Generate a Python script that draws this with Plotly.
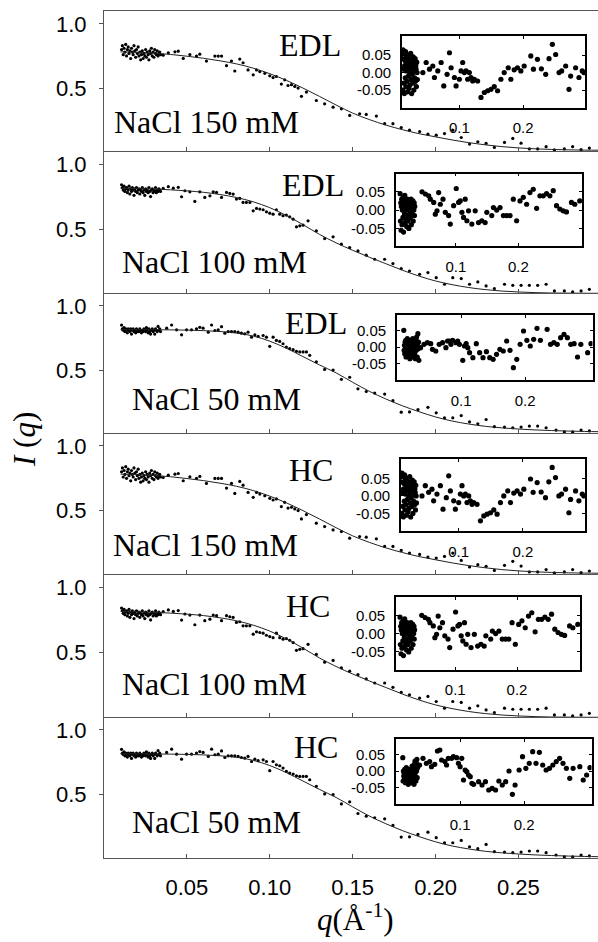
import plotly.graph_objects as go

# ---------------- data ----------------
# dense low-q grid shared by all measurements
Q_LOW = [0.0106, 0.0111, 0.0116, 0.0121, 0.0126, 0.0131, 0.0136, 0.0141, 0.0146, 0.0151,
         0.0156, 0.0161, 0.0166, 0.0171, 0.0176, 0.0181, 0.0186, 0.0191, 0.0196, 0.0201,
         0.0206, 0.0211, 0.0216, 0.0221, 0.0226, 0.0231, 0.0236, 0.0241, 0.0246, 0.0251,
         0.0256, 0.0261, 0.0266, 0.0271, 0.0276, 0.0281, 0.0286, 0.0291, 0.0296, 0.0301,
         0.0306, 0.0311, 0.0316, 0.0321, 0.0326, 0.0331, 0.0336, 0.0341]

# NaCl 150 mM intensities
I150_LOW = [0.80, 0.83, 0.76, 0.81, 0.78, 0.84, 0.75, 0.80, 0.82, 0.77, 0.79, 0.73, 0.81, 0.78, 0.76, 0.83,
            0.79, 0.74, 0.80, 0.77, 0.82, 0.75, 0.78, 0.72, 0.76, 0.79, 0.73, 0.77, 0.75, 0.80, 0.74, 0.78,
            0.76, 0.72, 0.79, 0.77, 0.81, 0.75, 0.78, 0.74, 0.80, 0.77, 0.76, 0.79, 0.75, 0.77, 0.78, 0.76]
Q150 = [0.0357, 0.0388, 0.0428, 0.0448, 0.0478, 0.0518, 0.0558, 0.0578, 0.0618, 0.0669,
        0.0689, 0.0709, 0.0739, 0.0769, 0.0789, 0.0819, 0.0839, 0.0869, 0.0900, 0.0920,
        0.0940, 0.0970, 0.1000, 0.1020, 0.1040, 0.1070, 0.1090, 0.1110, 0.1131, 0.1151,
        0.1171, 0.1191, 0.1221, 0.1281, 0.1331, 0.1382, 0.1432, 0.1482, 0.1542, 0.1582,
        0.1643, 0.1693, 0.1743, 0.1793, 0.1843, 0.1904, 0.1954, 0.2004, 0.2054, 0.2104,
        0.2155, 0.2205, 0.2255, 0.2305, 0.2355, 0.2416, 0.2466, 0.2516, 0.2566, 0.2616,
        0.2667, 0.2717, 0.2777, 0.2827, 0.2878, 0.2928]
I150 = [0.756, 0.774, 0.782, 0.787, 0.731, 0.761, 0.749, 0.764, 0.710, 0.749,
        0.749, 0.749, 0.674, 0.710, 0.633, 0.726, 0.697, 0.641, 0.603, 0.641,
        0.628, 0.615, 0.595, 0.582, 0.590, 0.531, 0.564, 0.520, 0.526, 0.513,
        0.500, 0.436, 0.469, 0.403, 0.377, 0.351, 0.338, 0.287, 0.300, 0.295,
        0.282, 0.223, 0.223, 0.192, 0.172, 0.161, 0.141, 0.133, 0.146, 0.172,
        0.115, 0.064, 0.082, 0.069, 0.038, 0.077, 0.108, 0.071, 0.026, 0.026,
        0.044, 0.018, 0.026, 0.044, 0.020, 0.033]

# NaCl 100 mM intensities
I100_LOW = [0.84, 0.82, 0.80, 0.83, 0.79, 0.81, 0.82, 0.78, 0.80, 0.83, 0.77, 0.81, 0.79, 0.82, 0.80, 0.76,
            0.81, 0.79, 0.82, 0.78, 0.80, 0.81, 0.77, 0.80, 0.79, 0.82, 0.78, 0.80, 0.76, 0.81, 0.79, 0.80,
            0.78, 0.82, 0.79, 0.75, 0.80, 0.81, 0.78, 0.80, 0.79, 0.82, 0.78, 0.80, 0.79, 0.81, 0.80, 0.79]
Q100 = [0.0357, 0.0388, 0.0418, 0.0448, 0.0468, 0.0488, 0.0518, 0.0548, 0.0578, 0.0608,
        0.0639, 0.0659, 0.0679, 0.0709, 0.0739, 0.0759, 0.0779, 0.0799, 0.0819, 0.0839,
        0.0859, 0.0880, 0.0900, 0.0920, 0.0940, 0.0960, 0.0980, 0.1000, 0.1020, 0.1040,
        0.1060, 0.1080, 0.1100, 0.1120, 0.1141, 0.1161, 0.1181, 0.1201, 0.1231, 0.1281,
        0.1331, 0.1382, 0.1432, 0.1482, 0.1532, 0.1582, 0.1633, 0.1693, 0.1743, 0.1793,
        0.1843, 0.1904, 0.1954, 0.2004, 0.2054, 0.2104, 0.2155, 0.2205, 0.2255, 0.2305,
        0.2355, 0.2416, 0.2466, 0.2516, 0.2566, 0.2616, 0.2667, 0.2717, 0.2777, 0.2827,
        0.2878, 0.2928]
I100 = [0.813, 0.826, 0.815, 0.821, 0.749, 0.795, 0.787, 0.713, 0.787, 0.744,
        0.756, 0.787, 0.782, 0.744, 0.782, 0.774, 0.769, 0.731, 0.736, 0.705,
        0.705, 0.705, 0.641, 0.659, 0.654, 0.649, 0.633, 0.623, 0.615, 0.649,
        0.615, 0.603, 0.608, 0.595, 0.577, 0.518, 0.526, 0.531, 0.564, 0.487,
        0.428, 0.441, 0.385, 0.359, 0.333, 0.300, 0.269, 0.269, 0.236, 0.197,
        0.179, 0.154, 0.167, 0.128, 0.077, 0.128, 0.121, 0.077, 0.095, 0.064,
        0.044, 0.077, 0.069, 0.069, 0.069, 0.069, 0.077, 0.026, 0.026, 0.018,
        0.026, 0.038]

# NaCl 50 mM intensities
I50_LOW = [0.85, 0.82, 0.81, 0.83, 0.80, 0.82, 0.81, 0.79, 0.82, 0.81, 0.80, 0.82, 0.78, 0.81, 0.82, 0.80,
           0.81, 0.79, 0.82, 0.80, 0.81, 0.80, 0.82, 0.81, 0.79, 0.81, 0.80, 0.82, 0.81, 0.80, 0.83, 0.81,
           0.79, 0.82, 0.80, 0.78, 0.81, 0.82, 0.80, 0.81, 0.78, 0.82, 0.81, 0.80, 0.84, 0.81, 0.82, 0.80]
Q50 = [0.0378, 0.0408, 0.0438, 0.0468, 0.0498, 0.0528, 0.0558, 0.0578, 0.0598, 0.0629,
       0.0649, 0.0669, 0.0689, 0.0709, 0.0729, 0.0749, 0.0769, 0.0789, 0.0809, 0.0829,
       0.0849, 0.0869, 0.0890, 0.0910, 0.0930, 0.0960, 0.0980, 0.1000, 0.1020, 0.1040,
       0.1060, 0.1080, 0.1100, 0.1120, 0.1141, 0.1161, 0.1181, 0.1201, 0.1221, 0.1241,
       0.1281, 0.1331, 0.1382, 0.1432, 0.1482, 0.1532, 0.1582, 0.1633, 0.1693, 0.1743,
       0.1793, 0.1843, 0.1894, 0.1954, 0.2004, 0.2054, 0.2104, 0.2155, 0.2205, 0.2255,
       0.2305, 0.2355, 0.2416, 0.2466, 0.2516, 0.2566, 0.2616, 0.2667, 0.2727, 0.2777,
       0.2827, 0.2878, 0.2928]
I50 = [0.826, 0.851, 0.813, 0.774, 0.813, 0.813, 0.821, 0.833, 0.826, 0.795,
       0.851, 0.808, 0.813, 0.838, 0.787, 0.800, 0.800, 0.800, 0.795, 0.787,
       0.782, 0.795, 0.756, 0.774, 0.762, 0.769, 0.756, 0.685, 0.756, 0.731,
       0.723, 0.705, 0.679, 0.667, 0.659, 0.646, 0.641, 0.641, 0.641, 0.615,
       0.564, 0.505, 0.500, 0.428, 0.444, 0.354, 0.333, 0.321, 0.313, 0.262,
       0.172, 0.174, 0.192, 0.210, 0.167, 0.128, 0.128, 0.146, 0.097, 0.082,
       0.115, 0.059, 0.056, 0.051, 0.056, 0.064, 0.064, 0.051, 0.033, 0.018,
       0.018, 0.033, 0.026]

# fitted model curves
Q_FIT = [0.010, 0.020, 0.030, 0.040, 0.050, 0.060, 0.070, 0.080, 0.090, 0.100,
         0.110, 0.120, 0.130, 0.140, 0.150, 0.160, 0.170, 0.180, 0.190, 0.200,
         0.210, 0.220, 0.230, 0.240, 0.250, 0.260, 0.270, 0.280, 0.290, 0.300]
FIT150 = [0.782, 0.778, 0.772, 0.762, 0.748, 0.732, 0.712, 0.688, 0.655, 0.612,
          0.560, 0.500, 0.435, 0.368, 0.305, 0.255, 0.212, 0.176, 0.145, 0.120,
          0.096, 0.075, 0.058, 0.044, 0.034, 0.027, 0.022, 0.019, 0.017, 0.016]
FIT100 = [0.814, 0.812, 0.808, 0.802, 0.794, 0.783, 0.766, 0.743, 0.710, 0.665,
          0.605, 0.535, 0.460, 0.395, 0.338, 0.285, 0.235, 0.185, 0.140, 0.102,
          0.074, 0.052, 0.036, 0.025, 0.018, 0.013, 0.010, 0.009, 0.008, 0.008]
FIT50 = [0.815, 0.815, 0.814, 0.813, 0.811, 0.807, 0.800, 0.788, 0.765, 0.725,
         0.670, 0.605, 0.540, 0.478, 0.405, 0.335, 0.275, 0.222, 0.176, 0.135,
         0.103, 0.080, 0.062, 0.050, 0.041, 0.034, 0.029, 0.025, 0.022, 0.020]

# residuals (insets)
R150_LOW = [0.040, -0.050, 0.065, 0.010, -0.030, 0.055, -0.060, 0.020, 0.035, -0.015, 0.060, -0.040,
            0.005, 0.045, -0.025, 0.030, -0.055, 0.015, 0.050, -0.010, 0.025, -0.045, 0.040, 0.000,
            -0.035, 0.020, 0.055, -0.020, 0.010, -0.060, 0.035, -0.005, 0.025, -0.030, 0.045, 0.015,
            -0.050, 0.030, -0.015, 0.005, 0.040, -0.025, 0.020, 0.010, -0.040, 0.030, 0.000, -0.020]
RQ150 = [0.0427, 0.0479, 0.0531, 0.0583, 0.0609, 0.0661, 0.0714, 0.0755, 0.0807, 0.0844,
         0.0870, 0.0922, 0.0948, 0.1000, 0.1026, 0.1052, 0.1078, 0.1104, 0.1130, 0.1156,
         0.1182, 0.1208, 0.1234, 0.1286, 0.1339, 0.1391, 0.1443, 0.1495, 0.1547, 0.1599,
         0.1651, 0.1703, 0.1766, 0.1807, 0.1859, 0.1911, 0.1964, 0.2016, 0.2120, 0.2161,
         0.2224, 0.2286, 0.2354, 0.2406, 0.2458, 0.2510, 0.2563, 0.2604, 0.2667, 0.2719,
         0.2745, 0.2823, 0.2875, 0.2927, 0.2953]
R150 = [0.000, 0.029, 0.010, 0.019, -0.014, 0.005, 0.029, -0.038, -0.005, 0.057,
        0.014, -0.014, -0.038, -0.019, 0.005, 0.029, 0.000, 0.005, -0.019, 0.000,
        -0.014, -0.024, -0.019, -0.024, -0.071, -0.057, -0.052, -0.048, -0.040, -0.052,
        -0.019, 0.000, 0.014, -0.019, 0.008, 0.014, 0.005, 0.019, 0.048, 0.010,
        0.038, 0.011, -0.005, 0.040, 0.081, 0.052, 0.000, 0.005, 0.019, -0.048,
        -0.010, 0.014, -0.014, 0.005, 0.000]

R100_LOW = [0.045, -0.030, 0.020, -0.055, 0.010, 0.030, -0.040, 0.000, 0.015, -0.020, 0.035, -0.060,
            0.005, 0.025, -0.010, 0.040, -0.035, 0.010, -0.025, 0.020, 0.000, -0.045, 0.015, 0.030,
            -0.015, 0.005, -0.030, 0.020, -0.050, 0.010, 0.025, -0.005, 0.015, -0.020, 0.000, 0.030,
            -0.040, 0.010, 0.020, -0.010, 0.005, 0.025, -0.030, 0.015, 0.000, 0.020, -0.015, 0.010]
RQ100 = [0.0457, 0.0511, 0.0564, 0.0590, 0.0644, 0.0670, 0.0697, 0.0723, 0.0750, 0.0793,
         0.0830, 0.0883, 0.0910, 0.0963, 0.1005, 0.1043, 0.1069, 0.1096, 0.1122, 0.1149,
         0.1176, 0.1202, 0.1255, 0.1309, 0.1362, 0.1415, 0.1468, 0.1495, 0.1574, 0.1601,
         0.1654, 0.1707, 0.1761, 0.1814, 0.1867, 0.1920, 0.1973, 0.2027, 0.2080, 0.2133,
         0.2186, 0.2239, 0.2293, 0.2346, 0.2399, 0.2452, 0.2505, 0.2559, 0.2612, 0.2665,
         0.2718, 0.2771, 0.2851, 0.2904, 0.2984]
R100 = [0.050, 0.044, 0.039, 0.030, 0.021, -0.011, -0.002, 0.048, 0.016, 0.030,
        -0.006, -0.015, -0.038, 0.012, 0.059, 0.021, 0.025, -0.006, -0.020, 0.030,
        -0.029, -0.002, -0.038, -0.002, -0.034, -0.029, -0.034, -0.006, -0.015, 0.007,
        0.000, 0.007, -0.015, -0.015, -0.015, 0.030, -0.029, 0.025, 0.035, 0.016,
        0.048, 0.057, 0.005, 0.039, 0.039, 0.045, 0.039, 0.053, 0.012, 0.003,
        -0.002, -0.005, 0.021, 0.016, 0.025]

R50E_LOW = [0.050, -0.010, 0.005, -0.020, 0.015, -0.005, 0.020, -0.030, 0.010, 0.000, -0.015, 0.025,
            -0.005, 0.010, -0.025, 0.005, 0.015, -0.010, 0.000, -0.035, 0.010, 0.020, -0.005, 0.005,
            -0.020, 0.015, -0.010, 0.000, 0.025, -0.030, 0.005, -0.015, 0.010, 0.000, -0.020, 0.015,
            -0.035, 0.005, 0.020, -0.010, 0.030, 0.000, -0.030, 0.010, 0.040, -0.005, 0.015, -0.040]
RQ50E = [0.0368, 0.0421, 0.0474, 0.0526, 0.0553, 0.0605, 0.0658, 0.0711, 0.0763, 0.0789,
         0.0816, 0.0842, 0.0868, 0.0921, 0.0947, 0.0974, 0.1026, 0.1053, 0.1079, 0.1105,
         0.1132, 0.1184, 0.1237, 0.1289, 0.1342, 0.1395, 0.1447, 0.1500, 0.1553, 0.1605,
         0.1658, 0.1711, 0.1763, 0.1816, 0.1868, 0.1921, 0.1974, 0.2026, 0.2079, 0.2132,
         0.2184, 0.2237, 0.2342, 0.2395, 0.2447, 0.2500, 0.2553, 0.2605, 0.2658, 0.2711,
         0.2763, 0.2816, 0.2868, 0.2974, 0.3026]
R50E = [-0.002, 0.008, 0.013, 0.010, -0.007, -0.012, 0.008, 0.013, -0.002, 0.018,
        0.018, 0.008, 0.020, 0.013, 0.018, 0.008, -0.040, 0.003, 0.010, -0.002,
        -0.017, -0.032, 0.010, -0.017, -0.032, -0.014, -0.032, -0.037, -0.022, -0.007,
        -0.012, 0.018, -0.010, -0.062, -0.037, 0.008, 0.048, 0.020, 0.003, 0.023,
        0.056, 0.020, 0.053, 0.008, 0.013, 0.008, 0.028, 0.038, 0.028, 0.008,
        0.010, -0.030, 0.008, -0.017, 0.010]

R50H_LOW = [0.040, -0.030, 0.000, -0.015, -0.005, -0.025, 0.005, -0.010, -0.035, 0.000, -0.020, 0.010,
            -0.015, -0.005, -0.030, 0.000, -0.010, -0.040, -0.020, 0.005, -0.015, -0.025, -0.005, -0.010,
            -0.030, 0.000, -0.020, -0.035, -0.005, 0.015, -0.025, -0.010, 0.010, -0.030, 0.000, -0.040,
            0.020, -0.015, 0.030, -0.005, 0.015, -0.030, 0.025, 0.000, 0.035, -0.020, 0.010, 0.015]
RQ50H = [0.0368, 0.0421, 0.0474, 0.0526, 0.0553, 0.0605, 0.0647, 0.0684, 0.0711, 0.0763,
         0.0789, 0.0816, 0.0868, 0.0895, 0.0947, 0.0974, 0.1000, 0.1026, 0.1053, 0.1079,
         0.1105, 0.1132, 0.1158, 0.1184, 0.1211, 0.1289, 0.1342, 0.1395, 0.1447, 0.1500,
         0.1553, 0.1605, 0.1658, 0.1711, 0.1763, 0.1816, 0.1858, 0.1921, 0.1974, 0.2026,
         0.2079, 0.2132, 0.2184, 0.2237, 0.2289, 0.2342, 0.2395, 0.2447, 0.2500, 0.2553,
         0.2605, 0.2658, 0.2711, 0.2763, 0.2868, 0.2921, 0.2974, 0.3026]
R50H = [0.018, 0.038, 0.023, 0.028, 0.013, 0.020, 0.060, 0.063, 0.033, 0.028,
        0.018, 0.038, 0.038, 0.043, 0.040, 0.023, 0.013, 0.038, -0.027, 0.003,
        -0.002, -0.012, -0.017, -0.037, -0.040, -0.032, -0.042, -0.032, -0.057, -0.052,
        -0.057, -0.030, -0.042, -0.032, 0.000, -0.070, -0.042, 0.003, 0.043, 0.008,
        0.023, 0.058, 0.023, 0.056, 0.018, 0.003, 0.008, 0.018, 0.028, 0.038,
        0.023, 0.008, -0.022, 0.008, 0.013, -0.027, -0.012, 0.010]

MODELS = ["EDL", "EDL", "EDL", "HC", "HC", "HC"]
SALTS = ["NaCl 150 mM", "NaCl 100 mM", "NaCl 50 mM", "NaCl 150 mM", "NaCl 100 mM", "NaCl 50 mM"]
X_TICKS = [0.05, 0.10, 0.15, 0.20, 0.25]
X_TICK_TEXT = ["0.05", "0.10", "0.15", "0.20", "0.25"]
Y_TICKS = [0.5, 1.0]
Y_TICK_TEXT = ["0.5", "1.0"]
IX_TICKS = [0.1, 0.2]
IX_TICK_TEXT = ["0.1", "0.2"]
IY_TICKS = [-0.05, 0.0, 0.05]
IY_TICK_TEXT = ["-0.05", "0.00", "0.05"]

main_sets = [
    (Q_LOW + Q150, I150_LOW + I150, FIT150),
    (Q_LOW + Q100, I100_LOW + I100, FIT100),
    (Q_LOW + Q50, I50_LOW + I50, FIT50),
    (Q_LOW + Q150, I150_LOW + I150, FIT150),
    (Q_LOW + Q100, I100_LOW + I100, FIT100),
    (Q_LOW + Q50, I50_LOW + I50, FIT50),
]
res_sets = [
    (Q_LOW + RQ150, R150_LOW + R150),
    (Q_LOW + RQ100, R100_LOW + R100),
    (Q_LOW + RQ50E, R50E_LOW + R50E),
    (Q_LOW + RQ150, R150_LOW + R150),
    (Q_LOW + RQ100, R100_LOW + R100),
    (Q_LOW + RQ50H, R50H_LOW + R50H),
]

# ---------------- layout geometry (pixels) ----------------
W, H = 598, 942
L, R, T, B = 104, 0, 11, 84
PW = W - L - R
PH = H - T - B


def px(X):
    return (X - L) / PW


def py(Y):
    return (H - B - Y) / PH


panel_px = [(11, 151), (151, 293), (293, 433), (433, 574), (574, 717), (717, 858)]
inset_px = [(402, 585, 36, 107.5), (396, 582, 173.5, 246), (397, 592.5, 315, 380),
            (401, 585, 459, 531), (396, 580, 597, 669.5), (396, 591.5, 739, 804)]
inset_xr = [[0.010, 0.297], [0.004, 0.302], [0.0, 0.305],
            [0.010, 0.297], [0.004, 0.302], [0.0, 0.305]]
inset_yr = [[-0.10, 0.105], [-0.098, 0.10], [-0.099, 0.096],
            [-0.10, 0.105], [-0.098, 0.10], [-0.099, 0.096]]
model_pos = [(310, 45), (313, 185), (316, 323), (311, 470), (308, 606), (316, 747)]
salt_pos = [(206, 122), (214, 262), (216, 399), (205, 545), (214, 684), (216, 822)]

SANS = "Liberation Sans, Arial, sans-serif"
SERIF = "Liberation Serif, Times New Roman, serif"
AX = "#555555"

fig = go.Figure()
layout = dict(
    width=W, height=H, margin=dict(l=L, r=R, t=T, b=B, autoexpand=False),
    paper_bgcolor="white", plot_bgcolor="white", showlegend=False,
    font=dict(family=SANS, color="black"),
)

for i in range(6):
    m = i + 1
    n = i + 7
    q, iq, fit = main_sets[i]
    fig.add_trace(go.Scatter(x=q, y=iq, mode="markers", xaxis=f"x{m}", yaxis=f"y{m}",
                             marker=dict(size=3.2, color="black"), hoverinfo="skip"))
    fig.add_trace(go.Scatter(x=Q_FIT, y=fit, mode="lines", line_shape="spline", xaxis=f"x{m}", yaxis=f"y{m}",
                             line=dict(color="#222222", width=1), hoverinfo="skip"))
    rq, rv = res_sets[i]
    fig.add_trace(go.Scatter(x=rq, y=rv, mode="markers", xaxis=f"x{n}", yaxis=f"y{n}",
                             marker=dict(size=5.2, color="black"), hoverinfo="skip"))

    top, bot = panel_px[i]
    layout[f"xaxis{m}"] = dict(
        domain=[0, 1], anchor=f"y{m}", range=[0, 0.298], showgrid=False, zeroline=False,
        showline=True, linecolor=AX, linewidth=1, mirror=(i == 0), automargin=False,
        ticks="inside", ticklen=4, tickcolor=AX, tickvals=X_TICKS, ticktext=X_TICK_TEXT,
        showticklabels=(i == 5), tickfont=dict(family=SANS, size=22, color="black"),
        ticklabelstandoff=10,
    )
    layout[f"yaxis{m}"] = dict(
        domain=[py(bot), py(top)], anchor=f"x{m}", range=[0.01, 1.1], showgrid=False, zeroline=False,
        showline=True, linecolor=AX, linewidth=1, automargin=False,
        ticks="outside", ticklen=4, tickcolor=AX, tickvals=Y_TICKS, ticktext=Y_TICK_TEXT,
        tickfont=dict(family=SANS, size=22, color="black"), ticklabelstandoff=8,
    )
    x0, x1, y0, y1 = inset_px[i]
    layout[f"xaxis{n}"] = dict(
        domain=[px(x0), px(x1)], anchor=f"y{n}", range=inset_xr[i], showgrid=False, zeroline=False,
        showline=True, linecolor="black", linewidth=1.6, mirror="ticks", automargin=False,
        ticks="inside", ticklen=3, tickcolor="black", tickvals=IX_TICKS, ticktext=IX_TICK_TEXT,
        tickfont=dict(family=SANS, size=15, color="black"), ticklabelstandoff=6,
    )
    layout[f"yaxis{n}"] = dict(
        domain=[py(y1), py(y0)], anchor=f"x{n}", range=inset_yr[i], showgrid=False, zeroline=False,
        showline=True, linecolor="black", linewidth=1.6, mirror="ticks", automargin=False,
        ticks="inside", ticklen=3, tickcolor="black", tickvals=IY_TICKS, ticktext=IY_TICK_TEXT,
        tickfont=dict(family=SANS, size=15, color="black"), ticklabelstandoff=6,
    )

annotations = []
for i in range(6):
    mx, my = model_pos[i]
    annotations.append(dict(text=MODELS[i], x=px(mx), y=py(my), xref="paper", yref="paper",
                            showarrow=False, xanchor="center", yanchor="middle",
                            font=dict(family=SERIF, size=32, color="black")))
    sx, sy = salt_pos[i]
    annotations.append(dict(text=SALTS[i], x=px(sx), y=py(sy), xref="paper", yref="paper",
                            showarrow=False, xanchor="center", yanchor="middle",
                            font=dict(family=SERIF, size=32, color="black")))

annotations.append(dict(text="<i>I</i> (<i>q</i>)", x=px(24), y=py(440), xref="paper", yref="paper",
                        showarrow=False, textangle=-90, xanchor="center", yanchor="middle",
                        font=dict(family=SERIF, size=31, color="black")))
annotations.append(dict(text="<i>q</i>(Å<sup>-1</sup>)", x=px(355), y=py(918), xref="paper", yref="paper",
                        showarrow=False, xanchor="center", yanchor="middle",
                        font=dict(family=SERIF, size=31, color="black")))
layout["annotations"] = annotations

fig.update_layout(**layout)
fig.write_html("out.html", config={"displayModeBar": False},
               post_script="document.body.style.margin='0px';document.body.style.overflow='hidden';")
